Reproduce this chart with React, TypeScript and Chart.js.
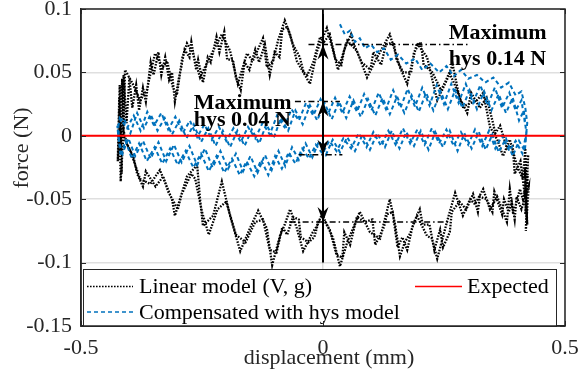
import { useEffect, useRef } from "react";
import { Chart, registerables } from "chart.js";
Chart.register(...registerables);

// ---- axis ticks ----
const xTickValues = [-0.5, 0, 0.5];
const xTickLabels = ["-0.5", "0", "0.5"];
const yTickValues = [-0.15, -0.1, -0.05, 0, 0.05, 0.1];
const yTickLabels = ["-0.15", "-0.1", "-0.05", "0", "0.05", "0.1"];
const xTitle = "displacement (mm)";
const yTitle = "force (N)";

// ---- series: Linear model (V, g), cycle 1 ----
const linearUpperX = [-0.424, -0.421, -0.418, -0.415, -0.412, -0.409, -0.393, -0.378, -0.364, -0.347, -0.331, -0.322, -0.310, -0.302, -0.291, -0.281, -0.269, -0.254, -0.244, -0.227, -0.209, -0.192, -0.176, -0.157, -0.145, -0.124, -0.116, -0.103, -0.093, -0.079, -0.068, -0.054, -0.027, -0.012, 0.008, 0.021, 0.031, 0.050, 0.070, 0.091, 0.112, 0.138, 0.159, 0.174, 0.194, 0.215, 0.236, 0.262, 0.277, 0.289, 0.318, 0.331, 0.345, 0.360, 0.372, 0.386, 0.401, 0.413];
const linearUpperY = [-0.020, 0.030, -0.012, 0.045, 0.005, 0.052, 0.041, 0.028, 0.036, 0.065, 0.054, 0.059, 0.038, 0.032, 0.061, 0.073, 0.065, 0.046, 0.054, 0.067, 0.080, 0.067, 0.041, 0.065, 0.059, 0.077, 0.054, 0.059, 0.075, 0.091, 0.080, 0.059, 0.041, 0.067, 0.085, 0.067, 0.052, 0.075, 0.067, 0.046, 0.062, 0.080, 0.054, 0.041, 0.073, 0.062, 0.028, 0.049, 0.036, 0.023, 0.028, 0.034, 0.007, -0.003, -0.016, -0.003, -0.024, -0.034];
const linearRightX = [0.418, 0.421, 0.417, 0.422, 0.416];
const linearRightY = [-0.010, -0.055, -0.025, -0.070, -0.045];
const linearLowerX = [0.413, 0.407, 0.393, 0.386, 0.380, 0.366, 0.360, 0.345, 0.331, 0.314, 0.304, 0.289, 0.273, 0.256, 0.236, 0.225, 0.215, 0.194, 0.180, 0.169, 0.159, 0.149, 0.138, 0.118, 0.097, 0.076, 0.062, 0.050, 0.035, 0.021, 0.008, -0.002, -0.014, -0.021, -0.041, -0.054, -0.068, -0.079, -0.089, -0.105, -0.116, -0.134, -0.151, -0.171, -0.192, -0.209, -0.227, -0.248, -0.254, -0.260, -0.281, -0.306, -0.312, -0.337, -0.357, -0.378, -0.388, -0.399, -0.409, -0.419, -0.424];
const linearLowerY = [-0.050, -0.042, -0.062, -0.042, -0.068, -0.054, -0.048, -0.058, -0.042, -0.054, -0.050, -0.063, -0.045, -0.068, -0.097, -0.081, -0.079, -0.063, -0.077, -0.084, -0.095, -0.070, -0.050, -0.081, -0.076, -0.060, -0.073, -0.084, -0.103, -0.081, -0.070, -0.062, -0.072, -0.076, -0.091, -0.073, -0.058, -0.070, -0.079, -0.102, -0.073, -0.059, -0.073, -0.091, -0.063, -0.036, -0.063, -0.071, -0.050, -0.023, -0.032, -0.063, -0.050, -0.027, -0.038, -0.034, -0.023, -0.011, -0.003, 0.009, -0.020];

// ---- series: Linear model (V, g), cycle 2 ----
const linearUpper2X = [-0.420, -0.416, -0.412, -0.406, -0.400, -0.394, -0.386, -0.380, -0.372, -0.366, -0.356, -0.350, -0.340, -0.334, -0.326, -0.318, -0.312, -0.306, -0.298, -0.294, -0.286, -0.276, -0.272, -0.262, -0.258, -0.248, -0.238, -0.232, -0.220, -0.214, -0.204, -0.198, -0.186, -0.180, -0.170, -0.162, -0.152, -0.140, -0.132, -0.120, -0.110, -0.100, -0.090, -0.084, -0.074, -0.062, -0.048, -0.040, -0.032, -0.020, -0.006, 0.002, 0.014, 0.026, 0.038, 0.044, 0.058, 0.064, 0.080, 0.098, 0.104, 0.120, 0.130, 0.146, 0.152, 0.166, 0.182, 0.188, 0.202, 0.208, 0.226, 0.244, 0.252, 0.268, 0.282, 0.298, 0.306, 0.324, 0.338, 0.350, 0.356, 0.366, 0.380, 0.392, 0.396, 0.408, 0.416];
const linearUpper2Y = [0.040, -0.030, 0.048, 0.010, 0.046, 0.022, 0.040, 0.020, 0.038, 0.027, 0.058, 0.048, 0.066, 0.048, 0.062, 0.044, 0.050, 0.027, 0.045, 0.052, 0.068, 0.062, 0.074, 0.052, 0.060, 0.042, 0.062, 0.058, 0.078, 0.066, 0.082, 0.060, 0.060, 0.046, 0.036, 0.058, 0.052, 0.068, 0.058, 0.072, 0.048, 0.066, 0.062, 0.084, 0.086, 0.072, 0.062, 0.050, 0.048, 0.058, 0.078, 0.074, 0.080, 0.060, 0.056, 0.068, 0.080, 0.072, 0.058, 0.052, 0.066, 0.056, 0.072, 0.074, 0.060, 0.050, 0.050, 0.066, 0.074, 0.056, 0.050, 0.036, 0.042, 0.056, 0.030, 0.018, 0.034, 0.022, 0.030, 0.012, 0.002, 0.008, -0.010, -0.008, -0.030, -0.020, -0.044];
const linearRight2X = [0.424, 0.418, 0.423, 0.419, 0.425];
const linearRight2Y = [-0.015, -0.062, -0.030, -0.075, -0.040];
const linearLower2X = [0.410, 0.400, 0.396, 0.390, 0.384, 0.374, 0.370, 0.354, 0.350, 0.338, 0.324, 0.320, 0.310, 0.296, 0.282, 0.266, 0.262, 0.248, 0.242, 0.230, 0.220, 0.206, 0.200, 0.186, 0.174, 0.164, 0.154, 0.144, 0.132, 0.126, 0.108, 0.102, 0.086, 0.070, 0.056, 0.044, 0.040, 0.028, 0.014, 0.004, -0.008, -0.018, -0.030, -0.046, -0.050, -0.062, -0.074, -0.084, -0.096, -0.110, -0.124, -0.140, -0.160, -0.180, -0.200, -0.218, -0.236, -0.250, -0.264, -0.272, -0.292, -0.300, -0.320, -0.330, -0.346, -0.366, -0.372, -0.384, -0.392, -0.404, -0.412, -0.418, -0.421];
const linearLower2Y = [-0.058, -0.048, -0.066, -0.052, -0.060, -0.050, -0.062, -0.044, -0.060, -0.050, -0.048, -0.060, -0.046, -0.058, -0.052, -0.060, -0.076, -0.088, -0.074, -0.090, -0.070, -0.070, -0.058, -0.070, -0.090, -0.080, -0.088, -0.060, -0.062, -0.072, -0.086, -0.066, -0.068, -0.064, -0.086, -0.076, -0.096, -0.094, -0.074, -0.068, -0.066, -0.080, -0.084, -0.080, -0.066, -0.064, -0.078, -0.072, -0.092, -0.090, -0.066, -0.068, -0.084, -0.078, -0.052, -0.058, -0.078, -0.060, -0.034, -0.030, -0.046, -0.058, -0.044, -0.032, -0.040, -0.028, -0.040, -0.030, -0.016, -0.008, 0.004, -0.036, 0.020];

// ---- series: Compensated with hys model, cycle 1 ----
const compStartX = [0.035, 0.045, 0.056, 0.066, 0.076, 0.087, 0.099, 0.112, 0.126, 0.140, 0.155, 0.172, 0.190, 0.205, 0.222, 0.240, 0.255, 0.270, 0.285, 0.300, 0.318, 0.335, 0.352, 0.368, 0.384, 0.398, 0.410, 0.418];
const compStartY = [0.088, 0.080, 0.083, 0.074, 0.077, 0.069, 0.072, 0.066, 0.069, 0.060, 0.064, 0.057, 0.061, 0.052, 0.057, 0.050, 0.055, 0.047, 0.052, 0.045, 0.048, 0.042, 0.046, 0.038, 0.042, 0.032, 0.035, 0.022];
const compRightX = [0.422, 0.418, 0.421, 0.417];
const compRightY = [0.010, -0.005, 0.005, -0.012];
const compLowerX = [0.405, 0.392, 0.378, 0.363, 0.350, 0.336, 0.322, 0.307, 0.292, 0.278, 0.262, 0.248, 0.232, 0.218, 0.202, 0.188, 0.172, 0.158, 0.142, 0.128, 0.112, 0.097, 0.082, 0.066, 0.050, 0.035, 0.020, 0.006, -0.008, -0.022, -0.036, -0.050, -0.064, -0.078, -0.092, -0.106, -0.120, -0.135, -0.150, -0.165, -0.180, -0.196, -0.212, -0.228, -0.244, -0.260, -0.276, -0.292, -0.308, -0.324, -0.340, -0.356, -0.372, -0.388, -0.402, -0.414, -0.422];
const compLowerY = [-0.004, -0.016, -0.002, -0.013, 0.001, -0.011, 0.003, -0.010, 0.002, -0.012, 0.004, -0.009, 0.003, -0.011, 0.004, -0.008, 0.003, -0.010, 0.004, -0.009, 0.002, -0.011, 0.001, -0.012, -0.001, -0.013, -0.003, -0.015, -0.004, -0.017, -0.006, -0.019, -0.009, -0.024, -0.012, -0.027, -0.015, -0.029, -0.016, -0.028, -0.014, -0.026, -0.012, -0.025, -0.010, -0.023, -0.008, -0.021, -0.007, -0.020, -0.005, -0.018, -0.004, -0.016, -0.002, -0.014, -0.004];
const compLeftX = [-0.425, -0.421, -0.423];
const compLeftY = [0.008, -0.006, 0.010];
const compUpperX = [-0.412, -0.398, -0.384, -0.370, -0.356, -0.342, -0.327, -0.312, -0.297, -0.282, -0.267, -0.252, -0.237, -0.222, -0.207, -0.192, -0.177, -0.162, -0.147, -0.132, -0.117, -0.102, -0.087, -0.072, -0.057, -0.042, -0.027, -0.012, 0.003, 0.018, 0.033, 0.048, 0.063, 0.078, 0.093, 0.108, 0.123, 0.138, 0.153, 0.168, 0.183, 0.198, 0.213, 0.228, 0.243, 0.258, 0.273, 0.288, 0.303, 0.318, 0.333, 0.348, 0.363, 0.378, 0.392, 0.405, 0.415, 0.420];
const compUpperY = [0.014, 0.002, 0.018, 0.006, 0.017, 0.004, 0.014, 0.001, 0.012, -0.002, 0.009, -0.005, 0.006, -0.008, 0.004, -0.009, 0.004, -0.008, 0.005, -0.006, 0.009, -0.002, 0.014, 0.004, 0.020, 0.009, 0.024, 0.012, 0.026, 0.013, 0.027, 0.014, 0.028, 0.015, 0.029, 0.016, 0.030, 0.017, 0.031, 0.018, 0.032, 0.019, 0.034, 0.020, 0.035, 0.021, 0.036, 0.022, 0.036, 0.021, 0.035, 0.020, 0.033, 0.018, 0.030, 0.012, 0.020, 0.002];

// ---- series: Compensated with hys model, cycle 2 ----
const compLower2X = [0.412, 0.398, 0.385, 0.370, 0.356, 0.343, 0.329, 0.314, 0.300, 0.285, 0.270, 0.255, 0.240, 0.225, 0.210, 0.195, 0.180, 0.165, 0.150, 0.135, 0.120, 0.104, 0.090, 0.074, 0.058, 0.042, 0.028, 0.013, -0.001, -0.015, -0.029, -0.043, -0.057, -0.071, -0.085, -0.099, -0.113, -0.128, -0.142, -0.158, -0.172, -0.188, -0.204, -0.220, -0.236, -0.252, -0.268, -0.284, -0.300, -0.316, -0.332, -0.348, -0.364, -0.380, -0.395, -0.408, -0.418];
const compLower2Y = [-0.014, -0.004, -0.012, 0.000, -0.010, 0.004, -0.008, 0.005, -0.007, 0.003, -0.008, 0.005, -0.006, 0.006, -0.007, 0.005, -0.006, 0.006, -0.007, 0.004, -0.008, 0.003, -0.009, 0.002, -0.010, -0.002, -0.012, -0.004, -0.014, -0.007, -0.018, -0.010, -0.022, -0.013, -0.026, -0.016, -0.031, -0.019, -0.032, -0.020, -0.031, -0.018, -0.029, -0.016, -0.028, -0.014, -0.025, -0.012, -0.023, -0.010, -0.022, -0.009, -0.020, -0.006, -0.018, -0.004, -0.016];
const compLeft2X = [-0.424, -0.420];
const compLeft2Y = [0.004, 0.014];
const compUpper2X = [-0.405, -0.391, -0.377, -0.363, -0.349, -0.334, -0.320, -0.305, -0.290, -0.275, -0.260, -0.245, -0.230, -0.215, -0.200, -0.185, -0.170, -0.155, -0.140, -0.125, -0.110, -0.095, -0.080, -0.065, -0.050, -0.035, -0.020, -0.005, 0.010, 0.025, 0.040, 0.055, 0.070, 0.085, 0.100, 0.115, 0.130, 0.145, 0.160, 0.175, 0.190, 0.205, 0.220, 0.235, 0.250, 0.265, 0.280, 0.295, 0.310, 0.325, 0.340, 0.355, 0.370, 0.385, 0.398, 0.410, 0.418];
const compUpper2Y = [0.006, 0.016, 0.004, 0.019, 0.008, 0.018, 0.005, 0.015, 0.002, 0.012, -0.001, 0.009, -0.003, 0.007, -0.004, 0.006, -0.005, 0.007, -0.002, 0.010, 0.001, 0.016, 0.007, 0.021, 0.012, 0.026, 0.016, 0.029, 0.017, 0.030, 0.018, 0.031, 0.019, 0.033, 0.020, 0.034, 0.021, 0.036, 0.022, 0.037, 0.023, 0.038, 0.024, 0.040, 0.025, 0.041, 0.026, 0.041, 0.026, 0.040, 0.024, 0.038, 0.022, 0.034, 0.020, 0.028, 0.008];

// ---- series: Expected ----
const expectedX = [-0.5, 0.5];
const expectedY = [0, 0];

// ---- annotations (data units) ----
const hysX = 0;
const hysLineRange = [-0.1, 0.1];
const bigHys = [0.072, -0.068];
const bigHysTopGuide = [-0.03, 0.3];
const bigHysBottomGuide = [-0.07, 0.26];
const smallHys = [0.027, -0.015];
const smallHysTopGuide = [-0.058, 0.035];
const smallHysBottomGuide = [-0.05, 0.04];
const smallLabel = ["Maximum", "hys 0.04 N"];
const bigLabel = ["Maximum", "hys 0.14 N"];
const legendLabels = ["Linear model (V, g)", "Compensated with hys model", "Expected"];

const SERIF = "'Liberation Serif', 'Times New Roman', serif";
const AXIS = "#262626";

function pts(xs: number[], ys: number[]) {
  return xs.map((x, i) => ({ x, y: ys[i] }));
}

const overlay = {
  id: "overlay",
  afterDatasetsDraw(chart: any) {
    const { ctx, chartArea: a, scales } = chart;
    const sx = scales.x, sy = scales.y;
    const X = (v: number) => sx.getPixelForValue(v);
    const Y = (v: number) => sy.getPixelForValue(v);
    ctx.save();
    ctx.beginPath();
    ctx.rect(a.left, a.top, a.right - a.left, a.bottom - a.top);
    ctx.clip();
    ctx.strokeStyle = "#000";
    ctx.fillStyle = "#000";
    ctx.lineWidth = 1.5;
    ctx.setLineDash([6, 3, 1.5, 3]);
    const guide = (range: number[], v: number) => {
      ctx.beginPath();
      ctx.moveTo(X(range[0]), Y(v));
      ctx.lineTo(X(range[1]), Y(v));
      ctx.stroke();
    };
    guide(bigHysTopGuide, bigHys[0]);
    guide(bigHysBottomGuide, bigHys[1]);
    guide(smallHysTopGuide, smallHys[0]);
    guide(smallHysBottomGuide, smallHys[1]);
    ctx.setLineDash([]);
    ctx.lineWidth = 2;
    ctx.beginPath();
    ctx.moveTo(X(hysX), Y(hysLineRange[1]));
    ctx.lineTo(X(hysX), Y(hysLineRange[0]));
    ctx.stroke();
    const head = (v: number, dir: number) => {
      const px = X(hysX), py = Y(v);
      ctx.beginPath();
      ctx.moveTo(px, py);
      ctx.lineTo(px - 5.5, py + dir * 15);
      ctx.lineTo(px, py + dir * 10);
      ctx.lineTo(px + 5.5, py + dir * 15);
      ctx.closePath();
      ctx.fill();
    };
    head(bigHys[0], 1);
    head(bigHys[1], -1);
    head(smallHys[0], 1);
    head(smallHys[1], -1);
    ctx.font = `bold 22px ${SERIF}`;
    ctx.textAlign = "left";
    ctx.textBaseline = "alphabetic";
    ctx.fillText(smallLabel[0], X(-0.267), Y(0.0215));
    ctx.fillText(smallLabel[1], X(-0.267), Y(0.0075));
    ctx.fillText(bigLabel[0], X(0.26), Y(0.0765));
    ctx.fillText(bigLabel[1], X(0.26), Y(0.0555));
    ctx.restore();
  },
  afterDraw(chart: any) {
    const { ctx, chartArea: a, scales } = chart;
    const sx = scales.x, sy = scales.y;
    const ds = chart.data.datasets;
    ctx.save();
    const lx = a.left + 2, ly = a.bottom - 57, lw = 473, lh = 57;
    ctx.fillStyle = "#fff";
    ctx.fillRect(lx, ly, lw, lh);
    ctx.strokeStyle = AXIS;
    ctx.lineWidth = 1;
    ctx.strokeRect(lx + 0.5, ly + 0.5, lw, lh);
    const sample = (d: any, x0: number, x1: number, y: number) => {
      ctx.strokeStyle = d.borderColor;
      ctx.lineWidth = Math.min(d.borderWidth, 1.6);
      ctx.setLineDash(d.borderDash || []);
      ctx.beginPath();
      ctx.moveTo(x0, y);
      ctx.lineTo(x1, y);
      ctx.stroke();
      ctx.setLineDash([]);
    };
    sample(ds[0], lx + 4, lx + 50, ly + 17.5);
    sample(ds[1], lx + 4, lx + 50, ly + 43);
    sample(ds[2], lx + 332, lx + 379, ly + 17.5);
    ctx.fillStyle = "#000";
    ctx.font = `22px ${SERIF}`;
    ctx.textAlign = "left";
    ctx.textBaseline = "alphabetic";
    ctx.fillText(legendLabels[0], lx + 56, ly + 24);
    ctx.fillText(legendLabels[1], lx + 56, ly + 50);
    ctx.fillText(legendLabels[2], lx + 384, ly + 24);
    ctx.strokeStyle = AXIS;
    ctx.lineWidth = 1.5;
    ctx.strokeRect(a.left, a.top, a.right - a.left, a.bottom - a.top);
    ctx.lineWidth = 1;
    ctx.beginPath();
    yTickValues.forEach((v) => {
      const p = Math.round(sy.getPixelForValue(v)) + 0.5;
      ctx.moveTo(a.left, p); ctx.lineTo(a.left + 5, p);
      ctx.moveTo(a.right, p); ctx.lineTo(a.right - 5, p);
    });
    xTickValues.forEach((v) => {
      const p = Math.round(sx.getPixelForValue(v)) + 0.5;
      ctx.moveTo(p, a.bottom); ctx.lineTo(p, a.bottom - 5);
      ctx.moveTo(p, a.top); ctx.lineTo(p, a.top + 5);
    });
    ctx.stroke();
    ctx.fillStyle = AXIS;
    ctx.font = `22px ${SERIF}`;
    ctx.textAlign = "center";
    ctx.textBaseline = "alphabetic";
    ctx.fillText(xTitle, (a.left + a.right) / 2 + 6, 364);
    ctx.translate(28, 148);
    ctx.rotate(-Math.PI / 2);
    ctx.fillText(yTitle, 0, 0);
    ctx.restore();
  },
};

export default function App() {
  const ref = useRef<HTMLCanvasElement>(null);
  useEffect(() => {
    document.body.style.margin = "0";
    const linear = [
      ...pts(linearUpperX, linearUpperY),
      ...pts(linearRightX, linearRightY),
      ...pts(linearLowerX, linearLowerY),
      ...pts(linearUpper2X, linearUpper2Y),
      ...pts(linearRight2X, linearRight2Y),
      ...pts(linearLower2X, linearLower2Y),
    ];
    const comp = [
      ...pts(compStartX, compStartY),
      ...pts(compRightX, compRightY),
      ...pts(compLowerX, compLowerY),
      ...pts(compLeftX, compLeftY),
      ...pts(compUpperX, compUpperY),
      ...pts(compLower2X, compLower2Y),
      ...pts(compLeft2X, compLeft2Y),
      ...pts(compUpper2X, compUpper2Y),
    ];
    const chart = new Chart(ref.current!, {
      type: "scatter",
      data: {
        datasets: [
          { label: legendLabels[0], data: linear, showLine: true, borderColor: "#000000", borderWidth: 2.3, borderDash: [1.6, 1.4], pointRadius: 0, tension: 0, order: 2 },
          { label: legendLabels[1], data: comp, showLine: true, borderColor: "#0072BD", borderWidth: 2, borderDash: [4, 3], pointRadius: 0, tension: 0, order: 1 },
          { label: legendLabels[2], data: pts(expectedX, expectedY), showLine: true, borderColor: "#FF0000", borderWidth: 2, pointRadius: 0, order: 0 },
        ],
      },
      options: {
        responsive: false,
        animation: false,
        devicePixelRatio: 1,
        layout: { padding: { top: 9, right: 15, left: 0, bottom: 0 } },
        plugins: { legend: { display: false }, tooltip: { enabled: false } },
        scales: {
          x: {
            type: "linear",
            min: -0.5,
            max: 0.5,
            afterBuildTicks: (s: any) => { s.ticks = xTickValues.map((value) => ({ value })); },
            afterFit: (s: any) => { s.height = 54; s.paddingLeft = 0; s.paddingRight = 0; },
            ticks: {
              padding: 9,
              color: AXIS,
              font: { family: SERIF, size: 22 },
              maxRotation: 0,
              callback: (v: any) => xTickLabels[xTickValues.indexOf(Number(v))] ?? "",
            },
            grid: { color: "rgba(38,38,38,0.15)", lineWidth: 1.5, drawTicks: false },
            border: { display: true, color: AXIS, width: 1.5 },
          },
          y: {
            type: "linear",
            min: -0.15,
            max: 0.1,
            afterBuildTicks: (s: any) => { s.ticks = yTickValues.map((value) => ({ value })); },
            afterFit: (s: any) => { s.width = 81; s.paddingTop = 0; s.paddingBottom = 0; },
            ticks: {
              padding: 9,
              color: AXIS,
              font: { family: SERIF, size: 22 },
              callback: (v: any) => {
                const i = yTickValues.findIndex((t) => Math.abs(t - Number(v)) < 1e-9);
                return i >= 0 ? yTickLabels[i] : "";
              },
            },
            grid: { color: "rgba(38,38,38,0.15)", lineWidth: 1.5, drawTicks: false },
            border: { display: true, color: AXIS, width: 1.5 },
          },
        },
      },
      plugins: [overlay],
    } as any);
    return () => chart.destroy();
  }, []);
  return (
    <div style={{ position: "absolute", left: 0, top: 0, width: 580, height: 380 }}>
      <canvas ref={ref} width={580} height={380} style={{ display: "block" }} />
    </div>
  );
}
